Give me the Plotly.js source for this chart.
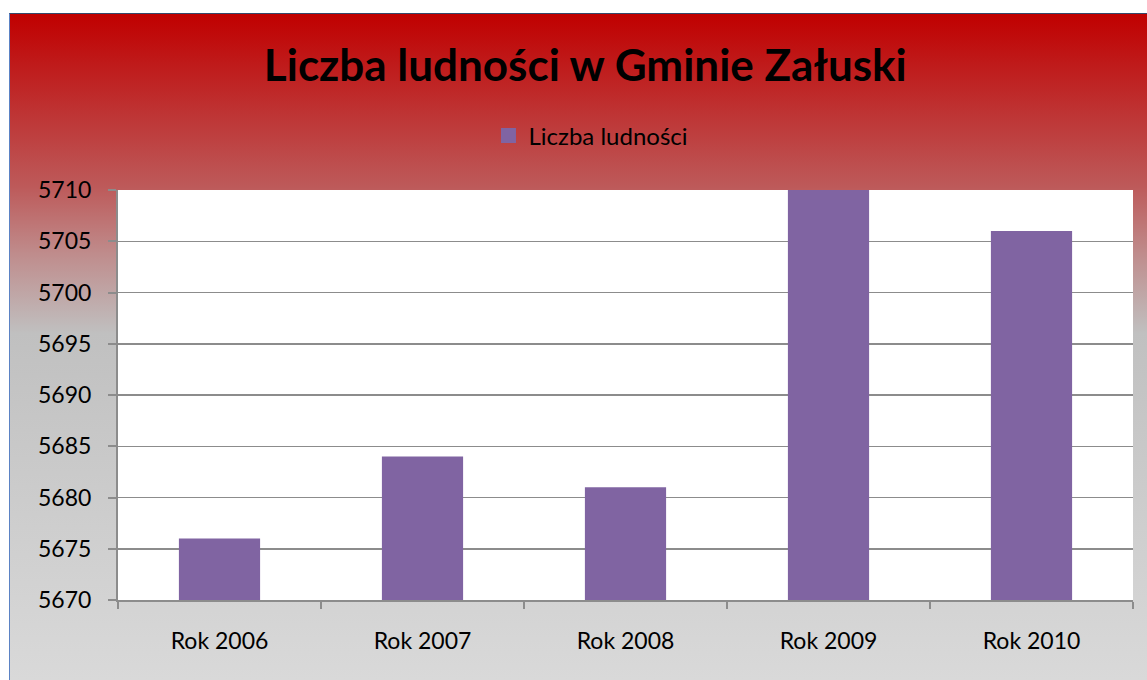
<!DOCTYPE html>
<html>
<head>
<meta charset="utf-8">
<script src="https://cdn.plot.ly/plotly-3.0.1.min.js"></script>
<style>
  html, body { margin: 0; padding: 0; background: #ffffff; }
  #frame {
    position: absolute; left: 9px; top: 13px; width: 1138px; height: 667px;
    box-sizing: border-box;
    border-top: 1px solid #34496a;
    border-left: 1px solid #5b82c4;
    background: linear-gradient(to bottom, #c00000 0%, #bd5a5a 26%, #bf8c8c 36%, #c0c0c0 48%, #d9d9d9 100%);
    overflow: hidden;
  }
  #chart { width: 1137px; height: 666px; }
</style>
</head>
<body>
<div id="frame"><div id="chart"></div></div>
<script>
const categories = ["Rok 2006", "Rok 2007", "Rok 2008", "Rok 2009", "Rok 2010"];
const population = [5676, 5684, 5681, 5710, 5706];
const seriesName = "Liczba ludności";
const chartTitle = "Liczba ludności w Gminie Załuski";

const barTrace = {
  type: "bar",
  x: categories,
  y: population,
  name: seriesName,
  marker: { color: "#8064a2" },
  showlegend: false
};

// legend-only entry with a larger square key, like the original
const legendKey = {
  type: "scatter",
  mode: "markers",
  x: [null],
  y: [null],
  name: seriesName,
  marker: { symbol: "square", size: 15, color: "#8064a2" },
  showlegend: true,
  hoverinfo: "skip"
};

const layout = {
  width: 1137,
  height: 666,
  margin: { l: 108, r: 14, t: 176, b: 80, pad: 0 },
  paper_bgcolor: "rgba(0,0,0,0)",
  plot_bgcolor: "#ffffff",
  font: { family: "Lato, 'Open Sans', sans-serif", color: "#000000" },
  title: {
    text: chartTitle,
    font: { family: "Lato, sans-serif", size: 44, weight: "bold", color: "#000000" },
    xref: "container", x: 0.506, xanchor: "center",
    yref: "container", y: 1 - 52 / 666, yanchor: "middle"
  },
  showlegend: true,
  legend: {
    orientation: "h",
    x: 0.466, xanchor: "center",
    y: 1.132, yanchor: "middle",
    bgcolor: "rgba(0,0,0,0)",
    font: { size: 24, color: "#000000" },
    itemwidth: 30
  },
  bargap: 0.6,
  xaxis: {
    type: "category",
    tickson: "boundaries",
    ticks: "outside",
    ticklen: 7,
    tickwidth: 2,
    tickcolor: "#8c8c8c",
    showline: true,
    linecolor: "#8c8c8c",
    linewidth: 2,
    showgrid: false,
    tickfont: { size: 23, color: "#000000" },
    ticklabelstandoff: 19
  },
  yaxis: {
    range: [5670, 5710],
    dtick: 5,
    tick0: 5670,
    ticks: "outside",
    ticklen: 8,
    tickwidth: 2,
    tickcolor: "#8c8c8c",
    showline: true,
    linecolor: "#8c8c8c",
    linewidth: 2,
    showgrid: true,
    gridcolor: "#8c8c8c",
    gridwidth: 1.5,
    zeroline: false,
    tickfont: { size: 23, color: "#000000" },
    ticklabelstandoff: 12,
    fixedrange: true
  }
};

Plotly.newPlot("chart", [barTrace, legendKey], layout, { displayModeBar: false, staticPlot: true });
</script>
</body>
</html>
